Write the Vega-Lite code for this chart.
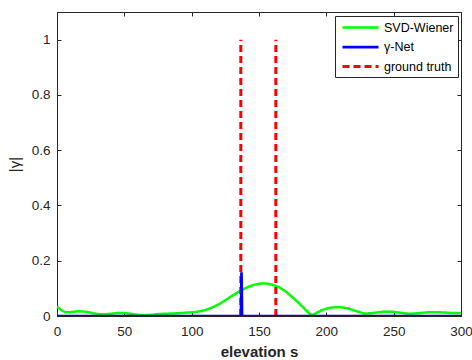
{
  "$schema": "https://vega.github.io/schema/vega-lite/v6.json",
  "width": 404,
  "height": 304,
  "autosize": "none",
  "padding": {"left": 57, "top": 12, "right": 11, "bottom": 44},
  "background": "white",
  "config": {
    "view": {"stroke": "#262626", "strokeWidth": 1},
    "axis": {
      "grid": false,
      "domainColor": "#262626",
      "tickColor": "#262626",
      "tickSize": -4,
      "labelColor": "#262626",
      "labelFont": "Liberation Sans",
      "labelFontSize": 13.5,
      "labelFlush": false,
      "labelOverlap": false,
      "titleFont": "Liberation Sans",
      "titleColor": "#262626"
    },
    "legend": {
      "orient": "top-right",
      "offset": 3.5,
      "fillColor": "white",
      "strokeColor": "#262626",
      "padding": 4,
      "symbolType": "M-3,0H3",
      "symbolSize": 144,
      "symbolOffset": 14,
      "symbolStrokeWidth": 2.5,
      "labelFont": "Liberation Sans",
      "labelFontSize": 12.5,
      "labelColor": "black",
      "labelOffset": 16,
      "rowPadding": 5.5
    }
  },
  "datasets": {
    "curves": [
      {"series": "SVD-Wiener", "seg": "a", "s": 0, "v": 0.034},
      {"series": "SVD-Wiener", "seg": "a", "s": 3, "v": 0.022},
      {"series": "SVD-Wiener", "seg": "a", "s": 6, "v": 0.014},
      {"series": "SVD-Wiener", "seg": "a", "s": 10, "v": 0.014},
      {"series": "SVD-Wiener", "seg": "a", "s": 15, "v": 0.017},
      {"series": "SVD-Wiener", "seg": "a", "s": 20, "v": 0.016},
      {"series": "SVD-Wiener", "seg": "a", "s": 25, "v": 0.012},
      {"series": "SVD-Wiener", "seg": "a", "s": 30, "v": 0.007},
      {"series": "SVD-Wiener", "seg": "a", "s": 35, "v": 0.006},
      {"series": "SVD-Wiener", "seg": "a", "s": 40, "v": 0.008},
      {"series": "SVD-Wiener", "seg": "a", "s": 45, "v": 0.011},
      {"series": "SVD-Wiener", "seg": "a", "s": 50, "v": 0.011},
      {"series": "SVD-Wiener", "seg": "a", "s": 55, "v": 0.008},
      {"series": "SVD-Wiener", "seg": "a", "s": 60, "v": 0.004},
      {"series": "SVD-Wiener", "seg": "a", "s": 65, "v": 0.003},
      {"series": "SVD-Wiener", "seg": "a", "s": 70, "v": 0.004},
      {"series": "SVD-Wiener", "seg": "a", "s": 75, "v": 0.007},
      {"series": "SVD-Wiener", "seg": "a", "s": 80, "v": 0.008},
      {"series": "SVD-Wiener", "seg": "a", "s": 85, "v": 0.009},
      {"series": "SVD-Wiener", "seg": "a", "s": 90, "v": 0.010},
      {"series": "SVD-Wiener", "seg": "a", "s": 95, "v": 0.012},
      {"series": "SVD-Wiener", "seg": "a", "s": 100, "v": 0.013},
      {"series": "SVD-Wiener", "seg": "a", "s": 105, "v": 0.016},
      {"series": "SVD-Wiener", "seg": "a", "s": 110, "v": 0.021},
      {"series": "SVD-Wiener", "seg": "a", "s": 115, "v": 0.030},
      {"series": "SVD-Wiener", "seg": "a", "s": 120, "v": 0.042},
      {"series": "SVD-Wiener", "seg": "a", "s": 125, "v": 0.057},
      {"series": "SVD-Wiener", "seg": "a", "s": 130, "v": 0.073},
      {"series": "SVD-Wiener", "seg": "a", "s": 135, "v": 0.088},
      {"series": "SVD-Wiener", "seg": "a", "s": 140, "v": 0.101},
      {"series": "SVD-Wiener", "seg": "a", "s": 145, "v": 0.111},
      {"series": "SVD-Wiener", "seg": "a", "s": 150, "v": 0.117},
      {"series": "SVD-Wiener", "seg": "a", "s": 155, "v": 0.118},
      {"series": "SVD-Wiener", "seg": "a", "s": 160, "v": 0.113},
      {"series": "SVD-Wiener", "seg": "a", "s": 165, "v": 0.104},
      {"series": "SVD-Wiener", "seg": "a", "s": 170, "v": 0.088},
      {"series": "SVD-Wiener", "seg": "a", "s": 175, "v": 0.067},
      {"series": "SVD-Wiener", "seg": "a", "s": 180, "v": 0.045},
      {"series": "SVD-Wiener", "seg": "a", "s": 185, "v": 0.020},
      {"series": "SVD-Wiener", "seg": "a", "s": 189, "v": 0.002},
      {"series": "SVD-Wiener", "seg": "a", "s": 193, "v": 0.012},
      {"series": "SVD-Wiener", "seg": "a", "s": 197, "v": 0.022},
      {"series": "SVD-Wiener", "seg": "a", "s": 202, "v": 0.029},
      {"series": "SVD-Wiener", "seg": "a", "s": 207, "v": 0.032},
      {"series": "SVD-Wiener", "seg": "a", "s": 212, "v": 0.031},
      {"series": "SVD-Wiener", "seg": "a", "s": 217, "v": 0.026},
      {"series": "SVD-Wiener", "seg": "a", "s": 222, "v": 0.018},
      {"series": "SVD-Wiener", "seg": "a", "s": 228, "v": 0.009},
      {"series": "SVD-Wiener", "seg": "a", "s": 233, "v": 0.010},
      {"series": "SVD-Wiener", "seg": "a", "s": 238, "v": 0.013},
      {"series": "SVD-Wiener", "seg": "a", "s": 244, "v": 0.016},
      {"series": "SVD-Wiener", "seg": "a", "s": 250, "v": 0.015},
      {"series": "SVD-Wiener", "seg": "a", "s": 256, "v": 0.011},
      {"series": "SVD-Wiener", "seg": "a", "s": 262, "v": 0.008},
      {"series": "SVD-Wiener", "seg": "a", "s": 268, "v": 0.010},
      {"series": "SVD-Wiener", "seg": "a", "s": 274, "v": 0.013},
      {"series": "SVD-Wiener", "seg": "a", "s": 280, "v": 0.014},
      {"series": "SVD-Wiener", "seg": "a", "s": 286, "v": 0.013},
      {"series": "SVD-Wiener", "seg": "a", "s": 292, "v": 0.011},
      {"series": "SVD-Wiener", "seg": "a", "s": 300, "v": 0.011},
      {"series": "ground truth", "seg": "g1", "s": 136.5, "v": 0},
      {"series": "ground truth", "seg": "g1", "s": 136.5, "v": 1},
      {"series": "ground truth", "seg": "g2", "s": 162.5, "v": 0},
      {"series": "ground truth", "seg": "g2", "s": 162.5, "v": 1},
      {"series": "γ-Net", "seg": "b", "s": 0, "v": 0},
      {"series": "γ-Net", "seg": "b", "s": 136.6, "v": 0},
      {"series": "γ-Net", "seg": "b", "s": 137, "v": 0.158},
      {"series": "γ-Net", "seg": "b", "s": 137.4, "v": 0},
      {"series": "γ-Net", "seg": "b", "s": 300, "v": 0}
    ]
  },
  "data": {"name": "curves"},
  "layer": [
    {
      "mark": {"type": "line", "clip": true, "strokeCap": "butt"},
      "encoding": {
        "x": {
          "field": "s", "type": "quantitative",
          "scale": {"domain": [0, 300], "nice": false, "zero": false},
          "axis": {"values": [0, 50, 100, 150, 200, 250, 300], "title": "elevation s", "titleFontSize": 15, "titleFontWeight": "bold", "labelPadding": 12, "titlePadding": 7}
        },
        "y": {
          "field": "v", "type": "quantitative",
          "scale": {"domain": [0, 1.1], "nice": false},
          "axis": {"values": [0, 0.2, 0.4, 0.6, 0.8, 1], "labelExpr": "format(datum.value, '.1~f')", "title": "|γ|", "titleFontSize": 15, "titleFontWeight": "normal", "labelPadding": 11, "titlePadding": 9}
        },
        "color": {
          "field": "series", "type": "nominal",
          "scale": {"domain": ["SVD-Wiener", "γ-Net", "ground truth"], "range": ["#00ff00", "#0000ff", "#ff0000"]},
          "legend": {"title": null}
        },
        "strokeDash": {
          "field": "series", "type": "nominal",
          "scale": {"domain": ["SVD-Wiener", "γ-Net", "ground truth"], "range": [[1, 0], [1, 0], [7, 4]]},
          "legend": {"title": null}
        },
        "strokeWidth": {
          "field": "series", "type": "nominal",
          "scale": {"domain": ["SVD-Wiener", "γ-Net", "ground truth"], "range": [2.5, 3, 2]},
          "legend": null
        },
        "detail": {"field": "seg"}
      }
    },
    {
      "mark": {"type": "point", "opacity": 0},
      "encoding": {
        "x": {
          "field": "s", "type": "quantitative",
          "axis": {"orient": "top", "values": [0, 50, 100, 150, 200, 250, 300], "labels": false, "title": null}
        },
        "y": {
          "field": "v", "type": "quantitative",
          "axis": {"orient": "right", "values": [0, 0.2, 0.4, 0.6, 0.8, 1], "labels": false, "title": null}
        }
      }
    }
  ],
  "resolve": {"axis": {"x": "independent", "y": "independent"}}
}
